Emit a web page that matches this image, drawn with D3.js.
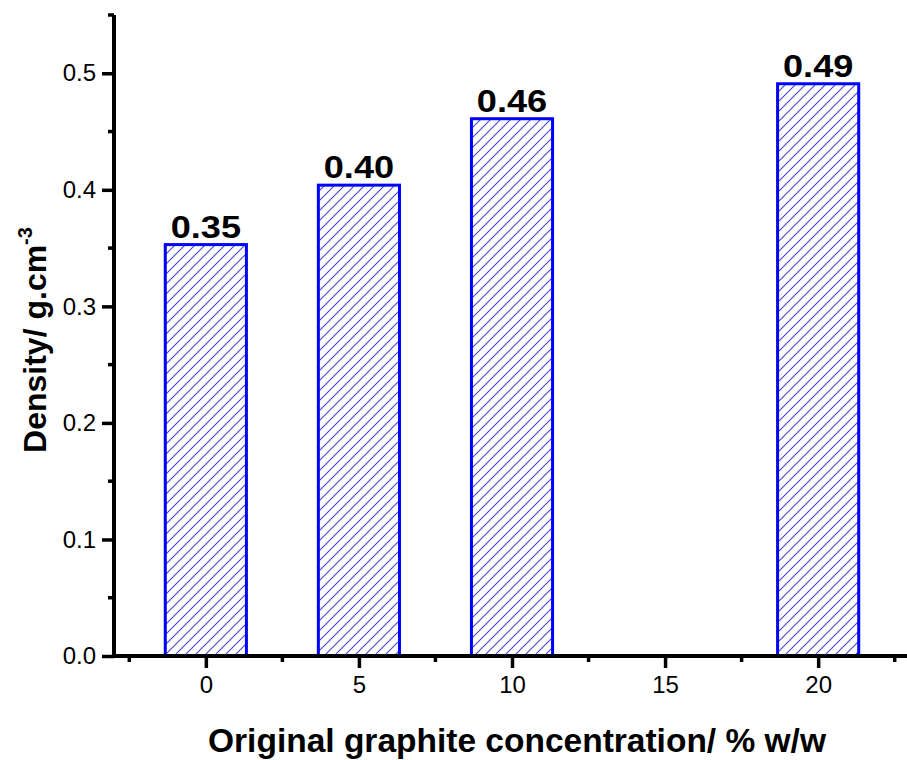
<!DOCTYPE html>
<html><head><meta charset="utf-8">
<script src="https://cdn.jsdelivr.net/npm/d3@7"></script>
<style>body{margin:0;background:#fff}svg{display:block}</style>
</head><body>
<script>
const concentrations = [0, 5, 10, 20];
const densities = [0.353, 0.404, 0.461, 0.491];
const barLabels = ["0.35", "0.40", "0.46", "0.49"];
const xTickValues = [0, 5, 10, 15, 20];
const yTickValues = [0.0, 0.1, 0.2, 0.3, 0.4, 0.5];

const W = 907, H = 760;
const FONT = "Liberation Sans, Arial, sans-serif";
const svg = d3.select("body").append("svg").attr("width", W).attr("height", H);
const x = d3.scaleLinear().domain([-3, 23]).range([114, 910]);
const y = d3.scaleLinear().domain([0, 0.55]).range([656, 15]);
const barW = 2.65;

const defs = svg.append("defs");
const P = 10;
const pat = defs.append("pattern").attr("id", "hatch").attr("patternUnits", "userSpaceOnUse")
  .attr("width", P).attr("height", P);
pat.append("rect").attr("width", P).attr("height", P).attr("fill", "#fff");
pat.append("path").attr("d", `M-1,1 l2,-2 M0,${P} l${P},-${P} M${P - 1},${P + 1} l2,-2`)
  .attr("stroke", "#4646d6").attr("stroke-width", 1.1);

svg.selectAll("rect.bar").data(concentrations).enter().append("rect")
  .attr("class", "bar")
  .attr("x", d => x(d - barW / 2))
  .attr("width", d => x(d + barW / 2) - x(d - barW / 2))
  .attr("y", (d, i) => y(densities[i]))
  .attr("height", (d, i) => y(0) - y(densities[i]))
  .attr("fill", "url(#hatch)").attr("stroke", "#0000ff").attr("stroke-width", 3);

svg.selectAll("text.lab").data(concentrations).enter().append("text")
  .attr("transform", (d, i) => `translate(${x(d)},${y(densities[i]) - 7}) scale(1.13,1)`)
  .attr("text-anchor", "middle").attr("font-family", FONT)
  .attr("font-weight", "bold").attr("font-size", 32).text((d, i) => barLabels[i]);

// y axis
const yAxis = d3.axisLeft(y).tickValues(yTickValues).tickFormat(d3.format(".1f")).tickSize(12).tickPadding(6);
const ya = svg.append("g").attr("transform", `translate(${x(-3)},0)`).call(yAxis);
ya.select(".domain").attr("stroke-width", 4).attr("d", `M0,${y(0.55)}V${y(0)}`);
ya.selectAll(".tick line").attr("stroke-width", 3.5);
ya.selectAll(".tick text").attr("font-family", FONT).attr("font-size", 24).attr("fill", "#000");
const yMinor = d3.range(0.05, 0.56, 0.1);
ya.selectAll("line.minor").data(yMinor).enter().append("line")
  .attr("x1", -6).attr("x2", 0).attr("y1", d => y(d)).attr("y2", d => y(d))
  .attr("stroke", "#000").attr("stroke-width", 3.5);

// x axis
const xAxis = d3.axisBottom(x).tickValues(xTickValues).tickSize(12).tickPadding(8);
const xa = svg.append("g").attr("transform", `translate(0,${y(0)})`).call(xAxis);
xa.select(".domain").attr("stroke-width", 4).attr("d", `M${x(-3) - 2},0H${x(23)}`);
xa.selectAll(".tick line").attr("stroke-width", 3.5);
xa.selectAll(".tick text").attr("font-family", FONT).attr("font-size", 24).attr("fill", "#000");
const xMinor = [-2.5, 2.5, 7.5, 12.5, 17.5, 22.5];
xa.selectAll("line.minor").data(xMinor).enter().append("line")
  .attr("x1", d => x(d)).attr("x2", d => x(d)).attr("y1", 0).attr("y2", 6)
  .attr("stroke", "#000").attr("stroke-width", 3.5);

svg.append("text").attr("x", 517).attr("y", 752).attr("text-anchor", "middle")
  .attr("font-family", FONT).attr("font-weight", "bold").attr("font-size", 33.5)
  .text("Original graphite concentration/ % w/w");

const yt = svg.append("text").attr("transform", "translate(46,340) rotate(-90)").attr("text-anchor", "middle")
  .attr("font-family", FONT).attr("font-weight", "bold").attr("font-size", 32);
yt.append("tspan").text("Density/ g.cm");
yt.append("tspan").attr("font-size", 20).attr("dy", -14).text("-3");
</script>
</body></html>
